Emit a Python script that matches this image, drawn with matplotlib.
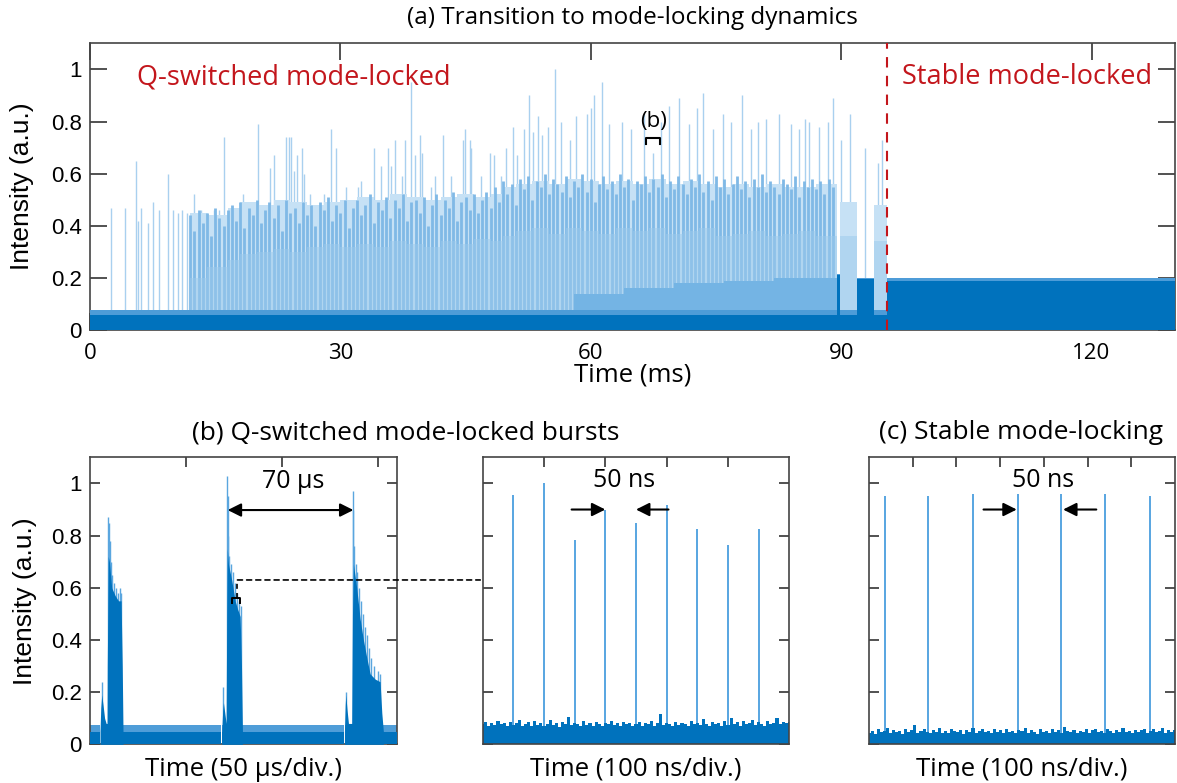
import numpy as np
import matplotlib
matplotlib.use("Agg")
import matplotlib.pyplot as plt
from matplotlib.patches import ConnectionPatch

DARK = "#0072BD"
MID = "#9ccaec"
STREAK = "#80b9e6"
LIGHT = "#c6e1f5"
SPIKE = "#a9d0ef"
LOW = "#74b4e4"
PULSE = "#4a9ede"
RED = "#c3161c"
TXT = "Open Sans"
NUM = "Liberation Sans"

# ---------------- (a) long record, time in ms ----------------
# dark floor of the trace (step-wise)
base_t = [0, 89.5, 89.9, 91.9, 93.9, 95.5, 130]
base_h = [0.058, 0.21, 0.058, 0.195, 0.058, 0.187, 0.187]
fringe_h = [0.075, 0.215, 0.075, 0.2, 0.075, 0.2, 0.2]

# dense Q-switched envelope (step-wise)
env_t = [12, 14, 16.5, 18, 20, 22, 24, 26, 28, 30, 32, 34, 36, 38, 40, 42, 44,
         46, 48, 49.5, 51, 53, 55, 57, 59, 61, 63, 65, 67, 69, 71, 73, 75, 77,
         79, 81, 83, 85, 87, 89.5, 89.9, 91.9, 93.9, 95.5]
env_hi = [0.45, 0.44, 0.47, 0.49, 0.48, 0.50, 0.49, 0.48, 0.49, 0.50, 0.51,
          0.50, 0.52, 0.51, 0.50, 0.51, 0.52, 0.51, 0.52, 0.55, 0.56, 0.57,
          0.56, 0.58, 0.57, 0.56, 0.57, 0.56, 0.58, 0.56, 0.57, 0.56, 0.55,
          0.56, 0.55, 0.56, 0.55, 0.55, 0.56, 0.0, 0.49, 0.0, 0.48, 0.0]
env_mid = [0.20, 0.24, 0.27, 0.29, 0.30, 0.31, 0.30, 0.32, 0.33, 0.32, 0.33,
           0.32, 0.34, 0.33, 0.32, 0.34, 0.33, 0.35, 0.34, 0.36, 0.38, 0.39,
           0.37, 0.39, 0.38, 0.37, 0.39, 0.38, 0.39, 0.37, 0.38, 0.39, 0.36,
           0.37, 0.38, 0.36, 0.37, 0.38, 0.36, 0.0, 0.36, 0.0, 0.34, 0.0]
low_t = [58, 64, 70, 76, 82, 89.5]
low_h = [0.14, 0.16, 0.18, 0.19, 0.20, 0.0]

# streaks inside the dense band, one every 0.5 ms from 12 ms
streak_h = [
    0.44, 0.38, 0.46, 0.41, 0.45, 0.36, 0.47, 0.43, 0.40, 0.46,
    0.48, 0.42, 0.49, 0.39, 0.47, 0.44, 0.50, 0.41, 0.46, 0.49,
    0.43, 0.48, 0.38, 0.50, 0.45, 0.47, 0.41, 0.49, 0.44, 0.48,
    0.40, 0.49, 0.46, 0.51, 0.42, 0.48, 0.45, 0.50, 0.39, 0.47,
    0.50, 0.44, 0.48, 0.52, 0.41, 0.49, 0.46, 0.51, 0.43, 0.50,
    0.47, 0.52, 0.42, 0.49, 0.50, 0.45, 0.51, 0.40, 0.48, 0.52,
    0.44, 0.50, 0.47, 0.53, 0.42, 0.49, 0.51, 0.46, 0.52, 0.45,
    0.50, 0.53, 0.47, 0.55, 0.49, 0.57, 0.52, 0.56, 0.48, 0.58,
    0.54, 0.59, 0.50, 0.57, 0.55, 0.60, 0.52, 0.58, 0.56, 0.53,
    0.59, 0.51, 0.57, 0.55, 0.60, 0.53, 0.58, 0.49, 0.56, 0.59,
    0.54, 0.57, 0.52, 0.60, 0.55, 0.58, 0.50, 0.57, 0.56, 0.59,
    0.53, 0.58, 0.55, 0.60, 0.51, 0.57, 0.54, 0.59, 0.56, 0.52,
    0.58, 0.55, 0.60, 0.53, 0.57, 0.50, 0.59, 0.55, 0.58, 0.52,
    0.56, 0.59, 0.54, 0.57, 0.51, 0.58, 0.55, 0.60, 0.53, 0.57,
    0.55, 0.52, 0.58, 0.56, 0.54, 0.59, 0.51, 0.57, 0.55, 0.58,
    0.54, 0.57, 0.52, 0.58, 0.55]

# individual tall pulses above the envelope
spike_t = [2.5, 4.2, 5.5, 5.8, 6.1, 6.9, 7.5, 8.3, 9.4, 10.0, 10.5, 11.0, 11.6,
           12.5, 13.3, 14.0, 14.8, 15.5, 16.1, 18.3, 20.1, 21.6, 22.0, 23.5,
           23.8, 24.1, 24.4, 24.8, 25.4, 25.6, 26.4, 28.0, 28.9, 29.5, 30.7,
           32.1, 32.5, 34.0, 34.9, 35.7, 36.1, 36.6, 37.4, 37.7, 38.5, 38.9,
           39.5, 39.8, 40.9, 41.3, 42.3, 43.3, 44.7, 44.9, 45.5, 45.7, 46.9,
           47.9, 48.4, 49.2, 49.9, 50.7, 51.2, 52.0, 52.6, 53.1, 53.7, 54.2,
           54.9, 55.7, 56.4, 57.5, 58.2, 59.5, 60.0, 60.4, 61.3, 62.2, 63.7,
           64.8, 66.4, 67.5, 68.4, 69.4, 70.6, 71.8, 72.7, 73.5, 74.6, 75.8,
           76.8, 78.1, 79.2, 80.0, 81.0, 82.6, 84.0, 85.0, 85.7, 86.2, 87.4,
           88.4, 89.0, 90.0, 91.0, 92.9, 94.4, 94.9]
spike_h = [0.47, 0.47, 0.65, 0.42, 0.47, 0.41, 0.49, 0.46, 0.60, 0.46, 0.45,
           0.46, 0.45, 0.52, 0.46, 0.45, 0.46, 0.46, 0.74, 0.52, 0.79, 0.62,
           0.67, 0.74, 0.74, 0.74, 0.61, 0.67, 0.70, 0.60, 0.52, 0.52, 0.77,
           0.70, 0.55, 0.55, 0.57, 0.70, 0.63, 0.70, 0.63, 0.73, 0.59, 0.73,
           0.95, 0.67, 0.75, 0.68, 0.55, 0.59, 0.75, 0.59, 0.73, 0.77, 0.73,
           0.70, 0.59, 0.68, 0.67, 0.59, 0.70, 0.78, 0.67, 0.77, 0.90, 0.76,
           0.82, 0.75, 0.78, 1.00, 0.80, 0.73, 0.82, 0.83, 0.85, 0.90, 0.95,
           0.79, 0.80, 0.77, 0.83, 0.68, 0.80, 0.86, 0.89, 0.79, 0.85, 0.91,
           0.77, 0.83, 0.80, 0.90, 0.77, 0.80, 0.81, 0.83, 0.79, 0.77, 0.81,
           0.80, 0.78, 0.80, 0.89, 0.73, 0.83, 0.70, 0.64, 0.73]

# ---------------- (b) bursts, time in us ----------------
bb_t = [0, 5.0, 5.5, 68.5, 68.9, 132.4, 132.8, 160]
bb_h = [0.046, 0.0, 0.046, 0.0, 0.046, 0.0, 0.046, 0.046]
bb_fringe = [0.075, 0.0, 0.075, 0.0, 0.075, 0.0, 0.075, 0.075]

burst1_t = [5.2, 5.6, 6.1, 6.8, 7.6, 8.4, 8.9, 9.0, 9.5, 10.1, 11.3, 13.1, 14.8, 16.2, 16.8, 17.2]
burst1_h = [0.05, 0.14, 0.19, 0.15, 0.10, 0.08, 0.08, 0.30, 0.72, 0.70, 0.60, 0.57, 0.55, 0.55, 0.30, 0.05]
burst2_t = [68.7, 69.2, 69.6, 70.3, 71.0, 71.3, 71.6, 72.2, 73.9, 75.7, 76.9, 78.3, 79.0, 79.5]
burst2_h = [0.05, 0.13, 0.16, 0.12, 0.08, 0.50, 0.75, 0.69, 0.63, 0.55, 0.52, 0.49, 0.30, 0.05]
burst3_t = [132.7, 133.1, 133.4, 134.1, 134.8, 136.5, 136.9, 137.4, 139.1, 140.9, 142.6,
            144.4, 146.1, 148.7, 151.3, 152.2, 153.0]
burst3_h = [0.05, 0.15, 0.19, 0.13, 0.08, 0.08, 0.50, 0.69, 0.60, 0.48, 0.40, 0.33,
            0.27, 0.25, 0.24, 0.12, 0.05]
bpk_t = [6.1, 9.6, 9.9, 10.3, 10.8, 11.5, 12.5, 13.5, 14.5, 15.5, 16.2,
         69.6, 71.5, 71.8, 72.1, 72.6, 73.5, 74.5, 75.5, 76.5, 77.5, 78.5,
         133.4, 137.0, 137.3, 137.8, 138.5, 139.5, 140.5, 141.5, 142.5, 143.5,
         144.5, 145.5, 146.5, 148.0, 150.0, 151.5]
bpk_h = [0.24, 0.87, 0.85, 0.78, 0.70, 0.65, 0.62, 0.60, 0.58, 0.60, 0.58,
         0.22, 1.03, 0.95, 0.80, 0.72, 0.69, 0.66, 0.62, 0.58, 0.55, 0.53,
         0.20, 0.97, 0.90, 0.76, 0.69, 0.66, 0.60, 0.55, 0.50, 0.45, 0.42,
         0.37, 0.33, 0.30, 0.28, 0.27]

# ---------------- zoom into one burst, time in ns ----------------
qml_t = [50, 100, 150, 200, 250, 300, 350, 400, 450]
qml_h = [0.955, 1.0, 0.785, 0.90, 0.847, 0.916, 0.827, 0.765, 0.824]
qml_noise = [
    0.078, 0.085, 0.070, 0.082, 0.074, 0.090, 0.076, 0.081, 0.069, 0.087,
    0.073, 0.080, 0.095, 0.072, 0.079, 0.084, 0.070, 0.088, 0.075, 0.083,
    0.071, 0.078, 0.092, 0.074, 0.081, 0.068, 0.086, 0.079, 0.105, 0.073,
    0.082, 0.077, 0.070, 0.089, 0.075, 0.080, 0.072, 0.085, 0.078, 0.069,
    0.083, 0.076, 0.091, 0.073, 0.080, 0.071, 0.087, 0.077, 0.082, 0.070,
    0.079, 0.085, 0.072, 0.080, 0.076, 0.088, 0.071, 0.083, 0.115, 0.074,
    0.080, 0.077, 0.069, 0.086, 0.075, 0.082, 0.078, 0.070, 0.090, 0.076,
    0.081, 0.073, 0.097, 0.079, 0.072, 0.085, 0.077, 0.083, 0.070, 0.088,
    0.075, 0.100, 0.078, 0.084, 0.072, 0.090, 0.076, 0.081, 0.095, 0.074,
    0.086, 0.079, 0.071, 0.089, 0.077, 0.082, 0.101, 0.076, 0.084, 0.080, 0.087]

# ---------------- (c) stable mode-locking, time in ns ----------------
ml_t = [18, 68, 119, 170, 220, 270, 321]
ml_h = [0.95, 0.95, 0.96, 0.96, 0.96, 0.96, 0.95]
ml_noise = [
    0.045, 0.052, 0.040, 0.058, 0.047, 0.050, 0.062, 0.043, 0.055, 0.048,
    0.050, 0.041, 0.057, 0.046, 0.053, 0.075, 0.044, 0.051, 0.060, 0.047,
    0.042, 0.055, 0.049, 0.064, 0.045, 0.052, 0.043, 0.058, 0.050, 0.046,
    0.056, 0.041, 0.053, 0.048, 0.061, 0.044, 0.050, 0.057, 0.046, 0.052,
    0.043, 0.060, 0.049, 0.054, 0.045, 0.058, 0.047, 0.051, 0.042, 0.056,
    0.050, 0.063, 0.044, 0.053, 0.048, 0.041, 0.057, 0.049, 0.052, 0.045,
    0.059, 0.047, 0.054, 0.043, 0.066, 0.050, 0.046, 0.055, 0.042, 0.051,
    0.048, 0.057, 0.044, 0.053, 0.060, 0.047, 0.050, 0.043, 0.058, 0.052,
    0.045, 0.055, 0.049, 0.062, 0.046, 0.051, 0.043, 0.056, 0.048, 0.053,
    0.059, 0.044, 0.050, 0.057, 0.046, 0.052, 0.061, 0.045, 0.054, 0.049, 0.056]

yticks = [0, 0.2, 0.4, 0.6, 0.8, 1]
ytlabels = ["0", "0.2", "0.4", "0.6", "0.8", "1"]


def style(ax, ticklen):
    ax.set_ylim(0, 1.1)
    ax.set_yticks(yticks)
    ax.tick_params(direction="in", top=True, right=True, length=ticklen,
                   width=1.2, color="#333333", labelsize=16, pad=6)
    for s in ax.spines.values():
        s.set_linewidth(1.2)
        s.set_color("#444444")


fig = plt.figure(figsize=(11.77, 7.83), dpi=100)
ax_a = fig.add_axes([0.0765, 0.5785, 0.9218, 0.3662])
ax_b1 = fig.add_axes([0.0765, 0.0494, 0.2606, 0.3665])
ax_b2 = fig.add_axes([0.4101, 0.0494, 0.2605, 0.3665])
ax_c = fig.add_axes([0.7383, 0.0494, 0.2600, 0.3665])

# ---- (a)
ax = ax_a
streak_t = 12 + 0.5 * np.arange(len(streak_h))
ax.vlines(spike_t, 0.06, spike_h, color=SPIKE, lw=1.0, zorder=1)
ax.fill_between(env_t, 0, env_hi, step="post", color=LIGHT, lw=0, zorder=2)
ax.vlines(streak_t, 0.06, streak_h, color=STREAK, lw=2.0, zorder=2.5)
ax.fill_between(env_t, 0, env_mid, step="post", color=MID, lw=0, zorder=3, alpha=0.5)
ax.fill_between(low_t, 0, low_h, step="post", color=LOW, lw=0, zorder=4)
ax.fill_between(base_t, 0, fringe_h, step="post", color="#4d9cd8", lw=0, zorder=5)
ax.fill_between(base_t, 0, base_h, step="post", color=DARK, lw=0, zorder=6)
ax.axvline(95.5, color=RED, lw=1.5, ls=(0, (5, 4)), zorder=7)
ax.set_xlim(0, 130)
ax.set_xticks([0, 30, 60, 90, 120])
style(ax, 12)
ax.set_yticklabels(ytlabels, family=NUM)
ax.set_xticklabels(["0", "30", "60", "90", "120"], family=TXT)
ax.tick_params(axis="x", pad=9)
ax.set_xlabel("Time (ms)", fontsize=18.5, family=TXT, labelpad=-1)
ax.set_ylabel("Intensity (a.u.)", fontsize=19, family=NUM, labelpad=12)
ax.text(5.6, 0.97, "Q-switched mode-locked", color=RED, fontsize=19.5,
        family=TXT, va="center", ha="left")
ax.text(97.3, 0.97, "Stable mode-locked", color=RED, fontsize=19.5,
        family=TXT, va="center", ha="left")
ax.plot([66.6, 66.6, 68.3, 68.3], [0.713, 0.738, 0.738, 0.713], color="k", lw=1.5, zorder=8)
ax.text(67.5, 0.80, "(b)", fontsize=16, family=TXT, ha="center", va="center", zorder=8)

# ---- (b) bursts
ax = ax_b1
ax.vlines(bpk_t, 0.04, bpk_h, color="#5aa6df", lw=1.0, zorder=1)
ax.fill_between(bb_t, 0, bb_fringe, step="post", color="#4f9dd8", lw=0, zorder=2)
ax.fill_between(bb_t, 0, bb_h, step="post", color=DARK, lw=0, zorder=3)
for bt, bh in [(burst1_t, burst1_h), (burst2_t, burst2_h), (burst3_t, burst3_h)]:
    ax.fill_between(bt, 0, bh, color=DARK, lw=0, zorder=3)
ax.set_xlim(0, 160)
ax.set_xticks([50, 100, 150])
ax.set_xticklabels([])
style(ax, 7)
ax.set_yticklabels(ytlabels, family=NUM)
ax.set_xlabel("Time (50 μs/div.)", fontsize=18.5, family=TXT, labelpad=3)
ax.set_ylabel("Intensity (a.u.)", fontsize=19, family=NUM, labelpad=10)
ax.annotate("", xy=(71.8, 0.898), xytext=(137.4, 0.898),
            arrowprops=dict(arrowstyle="<|-|>", color="k", lw=1.5,
                            mutation_scale=20, shrinkA=0, shrinkB=0), zorder=9)
ax.text(106, 1.006, "70 μs", fontsize=18, family=TXT, ha="center", va="center")
ax.plot([73.9, 73.9, 78.3, 78.3], [0.541, 0.559, 0.559, 0.541], color="k", lw=1.4, zorder=9)
ax.plot([76.9, 76.9], [0.559, 0.63], color="k", lw=1.2, ls=(0, (3, 2.5)), zorder=9)

# ---- zoom into one burst
ax = ax_b2
qx = np.linspace(0, 500, len(qml_noise))
ax.fill_between(qx, 0, qml_noise, step="mid", color=DARK, lw=0, zorder=2)
ax.vlines(qml_t, 0, qml_h, color=PULSE, lw=1.3, zorder=1)
ax.set_xlim(0, 500)
ax.set_xticks([100, 200, 300, 400])
ax.set_xticklabels([])
style(ax, 7)
ax.set_yticklabels([])
ax.set_xlabel("Time (100 ns/div.)", fontsize=18.5, family=TXT, labelpad=3)
arr = dict(arrowstyle="-|>", color="k", lw=1.5, mutation_scale=20, shrinkA=0, shrinkB=0)
ax.annotate("", xy=(200, 0.90), xytext=(145, 0.90), arrowprops=arr)
ax.annotate("", xy=(250, 0.90), xytext=(303, 0.90), arrowprops=arr)
ax.text(231, 1.01, "50 ns", fontsize=18, family=TXT, ha="center", va="center")

con = ConnectionPatch(xyA=(76.9, 0.63), coordsA=ax_b1.transData,
                      xyB=(-4, 0.63), coordsB=ax_b2.transData,
                      color="k", lw=1.2, ls=(0, (3, 2.5)), zorder=9)
fig.add_artist(con)

# ---- (c)
ax = ax_c
cx = np.linspace(0, 350, len(ml_noise))
ax.fill_between(cx, 0, ml_noise, step="mid", color=DARK, lw=0, zorder=2)
ax.vlines(ml_t, 0, ml_h, color=PULSE, lw=1.3, zorder=1)
ax.set_xlim(0, 350)
ax.set_xticks([50, 100, 150, 200, 250, 300])
ax.set_xticklabels([])
style(ax, 7)
ax.set_yticklabels([])
ax.set_xlabel("Time (100 ns/div.)", fontsize=18.5, family=TXT, labelpad=3)
ax.annotate("", xy=(169, 0.90), xytext=(131, 0.90), arrowprops=arr)
ax.annotate("", xy=(222, 0.90), xytext=(260, 0.90), arrowprops=arr)
ax.text(199, 1.01, "50 ns", fontsize=18, family=TXT, ha="center", va="center")

# titles
fig.text(0.537, 0.977, "(a) Transition to mode-locking dynamics", fontsize=17.5,
         family=TXT, ha="center", va="center")
fig.text(0.345, 0.447, "(b) Q-switched mode-locked bursts", fontsize=19,
         family=TXT, ha="center", va="center")
fig.text(0.8675, 0.447, "(c) Stable mode-locking", fontsize=19,
         family=TXT, ha="center", va="center")

fig.savefig("out.png", dpi=100)
